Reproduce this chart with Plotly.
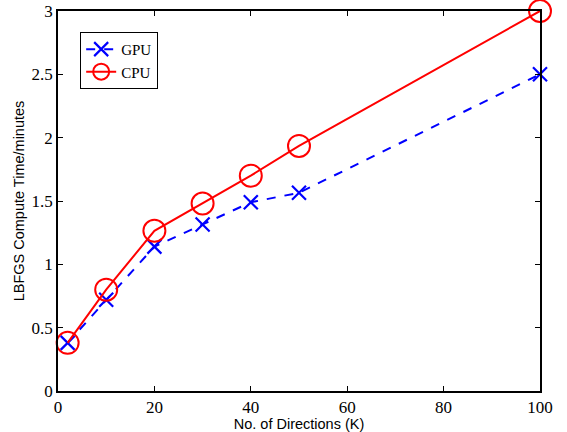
import plotly.graph_objects as go

directions = [2, 10, 20, 30, 40, 50, 100]
gpu_minutes = [0.38, 0.72, 1.14, 1.315, 1.49, 1.565, 2.5]
cpu_minutes = [0.38, 0.80, 1.265, 1.48, 1.70, 1.935, 3.0]
x_ticks = [0, 20, 40, 60, 80, 100]
y_ticks = [0, 0.5, 1, 1.5, 2, 2.5, 3]
y_tick_labels = ["0", "0.5", "1", "1.5", "2", "2.5", "3"]

fig = go.Figure()
fig.add_trace(go.Scatter(
    x=directions, y=gpu_minutes, name="GPU", mode="lines+markers",
    line=dict(color="#0000ff", width=2, dash="dash"),
    marker=dict(symbol="x-thin", size=14, line=dict(color="#0000ff", width=2.2), color="#0000ff"),
    cliponaxis=False,
))
fig.add_trace(go.Scatter(
    x=directions, y=cpu_minutes, name="CPU", mode="lines+markers",
    line=dict(color="#ff0000", width=2),
    marker=dict(symbol="circle-open", size=22, line=dict(color="#ff0000", width=2), color="#ff0000"),
    cliponaxis=False,
))

axis_common = dict(
    showgrid=False, zeroline=False, showline=True, linecolor="black", linewidth=1.5,
    mirror="ticks", ticks="inside", ticklen=5, tickcolor="black", tickwidth=1,
    tickfont=dict(family="Liberation Serif, serif", size=17, color="black"),
    automargin=False,
)
fig.update_xaxes(range=[0, 100], tickvals=x_ticks,
                 title=dict(text="No. of Directions (K)", font=dict(family="Liberation Sans, Arial, sans-serif", size=14.5, color="black"), standoff=2),
                 **axis_common)
fig.update_yaxes(range=[0, 3], tickvals=y_ticks, ticktext=y_tick_labels,
                 title=dict(text="LBFGS Compute Time/minutes", font=dict(family="Liberation Sans, Arial, sans-serif", size=14.5, color="black"), standoff=4),
                 **axis_common)

fig.update_layout(
    width=567, height=432,
    margin=dict(l=58, r=27, t=11, b=41),
    paper_bgcolor="white", plot_bgcolor="white",
    legend=dict(x=0.046, y=0.945, xanchor="left", yanchor="top",
                bgcolor="white", bordercolor="black", borderwidth=1,
                font=dict(family="Liberation Serif, serif", size=15, color="black"),
                itemwidth=30, tracegroupgap=0),
    showlegend=True,
)

fig.write_html("out.html",
               config={"displayModeBar": False},
               post_script="document.body.style.margin='0';document.body.style.overflow='hidden';")
